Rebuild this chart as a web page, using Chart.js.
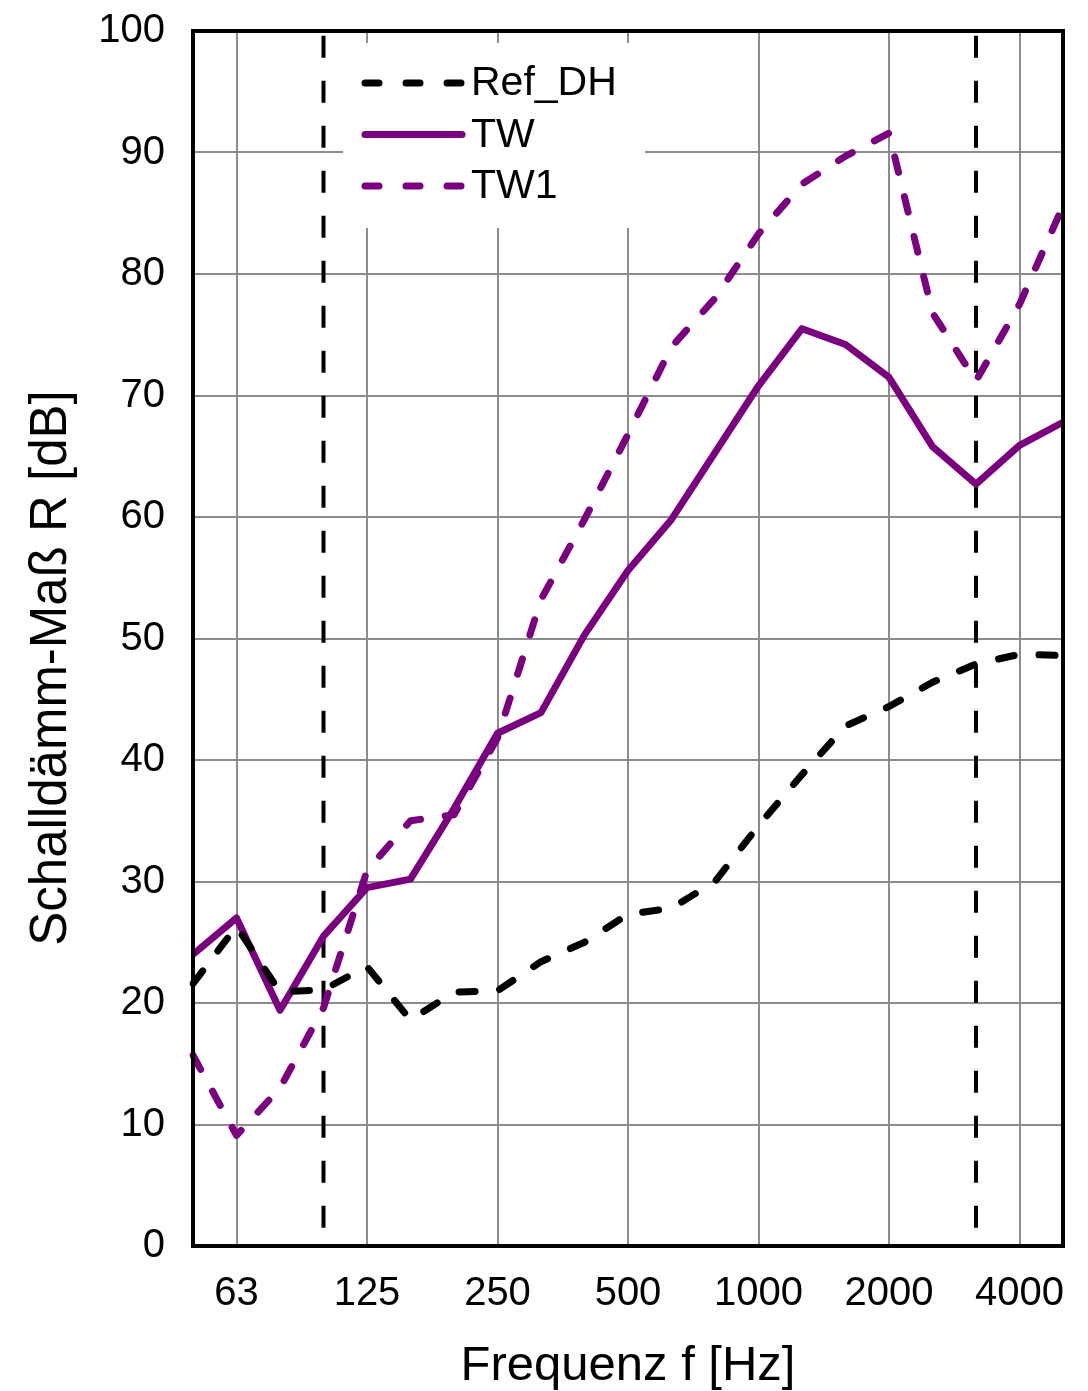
<!DOCTYPE html>
<html>
<head>
<meta charset="utf-8">
<title>Schalldämm-Maß</title>
<script src="https://cdn.jsdelivr.net/npm/chart.js@4"></script>
<style>
  body { margin: 0; background: #fff; }
  #wrap { width: 1088px; height: 1391px; position: relative; }
</style>
</head>
<body>
<div id="wrap"><canvas id="soundChart"></canvas></div>
<script>
// Third-octave band centre frequencies (Hz)
const freqs = ['50', '63', '80', '100', '125', '160', '200', '250', '315', '400', '500',
  '630', '800', '1000', '1250', '1600', '2000', '2500', '3150', '4000', '5000'];

// Octave bands that get a label and a grid line
const tickLabels = ['63', '125', '250', '500', '1000', '2000', '4000'];

// Bands marked with a vertical dashed line
const markerFreqs = ['100', '3150'];

// Sound reduction index R [dB]
const refDH = [21.6, 26.3, 20.9, 21.1, 23.0, 18.6, 20.9, 21.0, 23.4, 25.0, 27.3,
  27.8, 30.0, 34.6, 38.8, 42.8, 44.4, 46.4, 47.9, 48.7, 48.6];
const tw = [24.0, 27.0, 19.4, 25.5, 29.5, 30.2, 36.0, 42.2, 43.9, 50.3, 55.6,
  59.8, 65.3, 70.8, 75.5, 74.2, 71.5, 65.8, 62.7, 65.9, 67.8];
const tw1 = [15.7, 9.1, 13.0, 19.6, 30.9, 35.0, 35.5, 41.8, 53.2, 59.8, 66.8,
  74.0, 78.0, 83.3, 87.4, 89.7, 91.6, 76.8, 71.2, 77.5, 85.6];

const yTitle = 'Schalldämm-Maß R [dB]';

const purple = '#7a0080';
const gridColor = '#8c8c8c';
const fontFamily = "Arial, 'Liberation Sans', sans-serif";

// White legend box inside the plot, vertical marker lines, y title, frame
const overlay = {
  id: 'overlay',
  beforeDatasetsDraw(chart) {
    const { ctx, scales: { x, y } } = chart;
    ctx.save();

    // legend box (covers the grid)
    ctx.fillStyle = '#fff';
    ctx.fillRect(343, 43, 302, 185);

    ctx.strokeStyle = '#000';
    ctx.lineWidth = 4;
    ctx.setLineDash([22, 23]);
    markerFreqs.forEach(f => {
      const px = x.getPixelForValue(freqs.indexOf(f));
      ctx.beginPath();
      ctx.moveTo(px, y.getPixelForValue(99.6));
      ctx.lineTo(px, y.getPixelForValue(1.4));
      ctx.stroke();
    });
    ctx.restore();
  },
  afterDatasetsDraw(chart) {
    const { ctx, chartArea } = chart;
    ctx.save();

    // legend entries
    ctx.font = '41px ' + fontFamily;
    ctx.textBaseline = 'middle';
    ctx.fillStyle = '#000';
    chart.data.datasets.forEach((ds, i) => {
      const yy = 83 + i * 51.5;
      ctx.strokeStyle = ds.borderColor;
      ctx.lineWidth = 7;
      ctx.lineCap = 'round';
      ctx.setLineDash(ds.borderDash && ds.borderDash.length ? [14, 27] : []);
      ctx.beginPath();
      ctx.moveTo(365, yy);
      ctx.lineTo(462, yy);
      ctx.stroke();
      ctx.fillText(ds.label, 471, yy + 1);
    });

    // frame around the plot
    ctx.setLineDash([]);
    ctx.lineCap = 'butt';
    ctx.strokeStyle = '#000';
    ctx.lineWidth = 4;
    ctx.strokeRect(chartArea.left, chartArea.top, chartArea.right - chartArea.left, chartArea.bottom - chartArea.top);

    // y axis title (sits a bit below the plot centre in the original)
    ctx.translate(52, 668);
    ctx.rotate(-Math.PI / 2);
    ctx.textAlign = 'center';
    ctx.font = '51px ' + fontFamily;
    ctx.fillText(yTitle, 0, 0);
    ctx.restore();
  }
};

const data = {
  labels: freqs,
  datasets: [
    {
      label: 'Ref_DH',
      data: refDH,
      borderColor: '#000',
      borderWidth: 7,
      borderDash: [16, 25],
      borderCapStyle: 'round'
    },
    {
      label: 'TW',
      data: tw,
      borderColor: purple,
      borderWidth: 7
    },
    {
      label: 'TW1',
      data: tw1,
      borderColor: purple,
      borderWidth: 7,
      borderDash: [16, 25],
      borderCapStyle: 'round'
    }
  ]
};

const config = {
  type: 'line',
  data: data,
  options: {
    responsive: true,
    maintainAspectRatio: false,
    animation: false,
    layout: { padding: { top: 31, right: 25, left: 0, bottom: 0 } },
    elements: {
      point: { radius: 0 },
      line: { tension: 0, borderJoinStyle: 'round', fill: false }
    },
    plugins: {
      legend: { display: false },
      tooltip: { enabled: false }
    },
    scales: {
      x: {
        type: 'category',
        offset: false,
        border: { display: false },
        grid: {
          drawTicks: false,
          lineWidth: 2,
          color: c => tickLabels.includes(freqs[c.index]) ? gridColor : 'rgba(0,0,0,0)'
        },
        ticks: {
          autoSkip: false,
          maxRotation: 0,
          padding: 24,
          color: '#000',
          font: { family: fontFamily, size: 40 },
          callback: (v, i) => tickLabels.includes(freqs[i]) ? freqs[i] : ''
        },
        title: {
          display: true,
          text: 'Frequenz f [Hz]',
          color: '#000',
          font: { family: fontFamily, size: 49, lineHeight: 1 },
          padding: { top: 0, bottom: 0 }
        },
        afterFit: s => {
          s.height = 145;
          s.paddingLeft = 0;
          s.paddingRight = 0;
        }
      },
      y: {
        min: 0,
        max: 100,
        border: { display: false },
        grid: { drawTicks: false, lineWidth: 2, color: gridColor },
        ticks: {
          stepSize: 10,
          padding: 28,
          color: '#000',
          font: { family: fontFamily, size: 40 }
        },
        afterFit: s => {
          s.width = 193;
          s.paddingTop = 0;
          s.paddingBottom = 0;
        }
      }
    }
  },
  plugins: [overlay]
};

const soundChart = new Chart(document.getElementById('soundChart'), config);
</script>
</body>
</html>
